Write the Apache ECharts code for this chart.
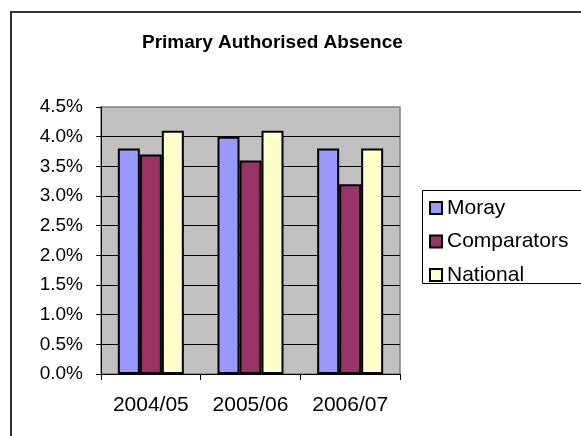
<!DOCTYPE html>
<html>
<head>
<meta charset="utf-8">
<script src="https://cdn.jsdelivr.net/npm/echarts@6/dist/echarts.min.js"></script>
<style>
  html, body { margin: 0; padding: 0; background: #fff; }
  #chart { width: 581px; height: 436px; }
</style>
</head>
<body>
<div id="chart"></div>
<script>
const categories = ['2004/05', '2005/06', '2006/07'];
const moray = [3.8, 4.0, 3.8];
const comparators = [3.7, 3.6, 3.2];
const national = [4.1, 4.1, 3.8];

const font = "'Liberation Sans', Arial, sans-serif";
const chart = echarts.init(document.getElementById('chart'));

const barStyle = (color) => ({
  color: color,
  borderColor: '#000',
  borderWidth: 2
});

chart.setOption({
  animation: false,
  backgroundColor: '#fff',
  title: {
    text: 'Primary Authorised Absence',
    left: 142,
    top: 33,
    padding: 0,
    textStyle: { fontFamily: font, fontSize: 19, fontWeight: 'bold', color: '#000' }
  },
  graphic: [
    {
      type: 'rect', z: -10, silent: true,
      shape: { x: 11, y: 12, width: 700, height: 600 },
      style: { fill: null, stroke: '#333', lineWidth: 2 }
    },
    {
      type: 'rect', z: -10, silent: true,
      shape: { x: 422.5, y: 190.5, width: 200, height: 93 },
      style: { fill: '#fff', stroke: '#000', lineWidth: 1 }
    }
  ],
  legend: {
    orient: 'vertical',
    left: 429,
    top: 197,
    padding: 0,
    itemWidth: 12,
    itemHeight: 12,
    itemGap: 11.5,
    icon: 'rect',
    textStyle: { fontFamily: font, fontSize: 21, color: '#000', lineHeight: 22 },
    data: ['Moray', 'Comparators', 'National']
  },
  grid: {
    left: 101, top: 107, width: 299, height: 267,
    show: true,
    backgroundColor: '#C0C0C0',
    borderColor: '#808080',
    borderWidth: 1.5
  },
  xAxis: {
    type: 'category',
    data: categories,
    axisLine: { lineStyle: { color: '#000', width: 1 } },
    axisTick: { show: true, length: 6, lineStyle: { color: '#000' } },
    axisLabel: { fontFamily: font, fontSize: 21, color: '#000', margin: 21 }
  },
  yAxis: {
    type: 'value',
    min: 0,
    max: 4.5,
    interval: 0.5,
    axisLine: { show: true, lineStyle: { color: '#000', width: 1 } },
    axisTick: { show: true, length: 5, lineStyle: { color: '#000' } },
    axisLabel: {
      fontFamily: font, fontSize: 19, color: '#000', margin: 18,
      formatter: (v) => v.toFixed(1) + '%'
    },
    splitLine: { show: true, showMaxLine: false, lineStyle: { color: '#000', width: 1 } }
  },
  series: [
    { name: 'Moray', type: 'bar', data: moray, barWidth: 22, barGap: '0%', itemStyle: barStyle('#9999FF') },
    { name: 'Comparators', type: 'bar', data: comparators, barWidth: 22, barGap: '0%', itemStyle: barStyle('#993366') },
    { name: 'National', type: 'bar', data: national, barWidth: 22, barGap: '0%', itemStyle: barStyle('#FFFFCC') }
  ]
});
</script>
</body>
</html>
